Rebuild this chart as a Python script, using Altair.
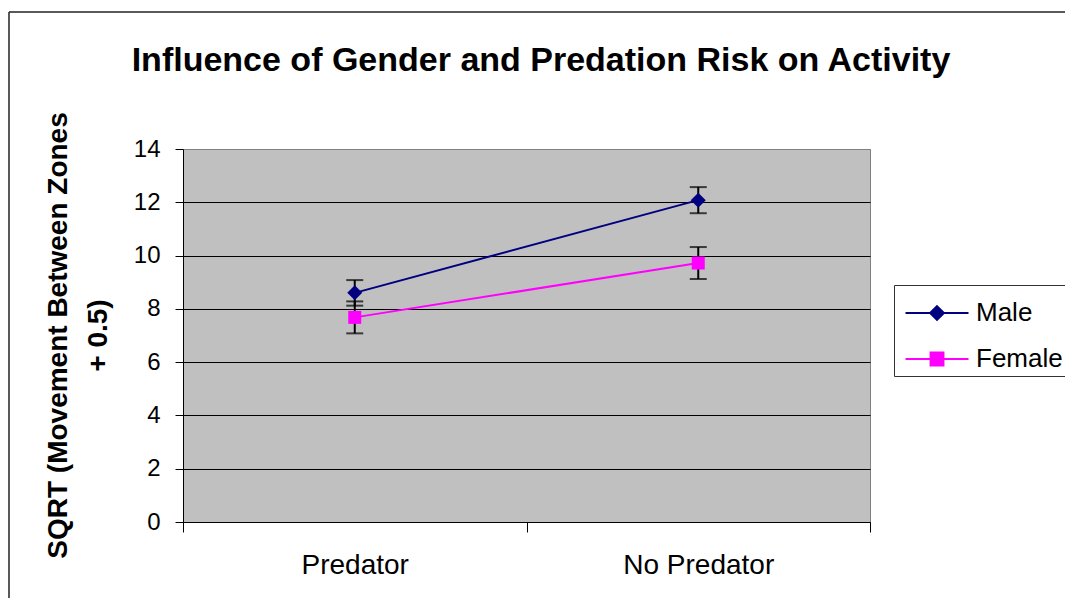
import altair as alt
import pandas as pd

# ---- data ----
conditions = ["Predator", "No Predator"]
genders = ["Male", "Female"]
male_means = [8.6, 12.08]
male_err = [0.48, 0.49]
female_means = [7.68, 9.72]
female_err = [0.6, 0.6]
y_ticks = [0, 2, 4, 6, 8, 10, 12, 14]
TITLE = "Influence of Gender and Predation Risk on Activity"
Y_TITLE = ["SQRT (Movement Between Zones", "+ 0.5)"]

rows = []
for g, means, errs in [("Male", male_means, male_err), ("Female", female_means, female_err)]:
    for c, m, e in zip(conditions, means, errs):
        rows.append({"condition": c, "gender": g, "mean": m, "lo": m - e, "hi": m + e})
df = pd.DataFrame(rows)

FONT = "Liberation Sans"
colors = ["#000080", "#FF00FF"]
marker_shapes = ["diamond", "square"]
marker_sizes = [225, 169]
W, H = 687, 373

x_enc = alt.X(
    "condition:N",
    sort=conditions,
    scale=alt.Scale(type="band", paddingInner=0, paddingOuter=0),
    axis=alt.Axis(
        title=None, tickBand="extent", tickSize=10, tickColor="black",
        domainColor="black", labelFont=FONT, labelFontSize=28, labelColor="black",
        labelPadding=19, labelAngle=0, grid=False,
    ),
)
y_scale = alt.Scale(domain=[0, 14], nice=False)
y_axis = alt.Axis(
    values=y_ticks, title=Y_TITLE, titleFont=FONT, titleFontSize=28, titleFontWeight="bold",
    titleColor="black", titleLineHeight=40, titleX=-125, titleY=186, titleAngle=270,
    titleAlign="center", titleBaseline="middle",
    labelFont=FONT, labelFontSize=24, labelColor="black", labelPadding=15,
    tickSize=8, tickColor="black", domainColor="black",
    grid=True, gridColor={"condition": {"test": "datum.value === 14", "value": "#808080"}, "value": "black"},
    gridWidth=1,
)
color_scale = alt.Scale(domain=genders, range=colors)

base = alt.Chart(df)

layers = []
for i, g in enumerate(genders):
    sub = base.transform_filter(alt.datum.gender == g)
    layers.append(
        sub.mark_line(strokeWidth=2, color=colors[i]).encode(
            x=x_enc, y=alt.Y("mean:Q", scale=y_scale, axis=y_axis)
        )
    )

err_rule = base.mark_rule(color="black", strokeWidth=2).encode(
    x=x_enc, y=alt.Y("lo:Q", scale=y_scale), y2="hi:Q"
)
err_lo = base.mark_tick(color="black", size=17, thickness=2).encode(
    x=x_enc, y=alt.Y("lo:Q", scale=y_scale)
)
err_hi = base.mark_tick(color="black", size=17, thickness=2).encode(
    x=x_enc, y=alt.Y("hi:Q", scale=y_scale)
)
layers += [err_rule, err_lo, err_hi]

for i, g in enumerate(genders):
    sub = base.transform_filter(alt.datum.gender == g)
    layers.append(
        sub.mark_point(shape=marker_shapes[i], filled=True, size=marker_sizes[i],
                       opacity=1, color=colors[i]).encode(
            x=x_enc, y=alt.Y("mean:Q", scale=y_scale)
        )
    )

legend = alt.Legend(
    title=None, orient="none", legendX=711, legendY=136, padding=4,
    symbolOffset=15, labelOffset=15, rowPadding=9, symbolSize=2116,
    symbolStrokeWidth=2, symbolOpacity=1,
    labelFont=FONT, labelFontSize=26, labelColor="black", labelLimit=300,
    fillColor="white", strokeColor="#333333",
)
leg_paths = [
    "M-1.37,0L1.37,0M0,-0.3L0.3,0L0,0.3L-0.3,0Z",
    "M-1.37,0L1.37,0M-0.28,-0.28L0.28,-0.28L0.28,0.28L-0.28,0.28Z",
]
# legend-only layer: no marks drawn (rows filtered out), the legend comes from the scale domains
legend_layer = base.transform_filter("false").mark_point(filled=True, strokeWidth=2).encode(
    x=x_enc, y=alt.Y("mean:Q", scale=y_scale),
    fill=alt.Fill("gender:N", scale=color_scale, legend=legend),
    stroke=alt.Stroke("gender:N", scale=color_scale, legend=legend),
    shape=alt.Shape("gender:N", scale=alt.Scale(domain=genders, range=leg_paths), legend=legend),
)
layers.append(legend_layer)

one = pd.DataFrame({"t": [TITLE]})
title = alt.Chart(one).mark_text(
    font=FONT, fontSize=34, fontWeight="bold", color="black", align="center", baseline="alphabetic"
).encode(text="t:N", x=alt.value(358), y=alt.value(-78))

border_left = alt.Chart(one).mark_rule(color="#222222", strokeWidth=1.5).encode(
    x=alt.value(-174), y=alt.value(-137), y2=alt.value(460)
)
border_top = alt.Chart(one).mark_rule(color="#222222", strokeWidth=1.5).encode(
    y=alt.value(-137), x=alt.value(-174), x2=alt.value(900)
)

chart = alt.layer(border_left, border_top, title, *layers).properties(
    width=W, height=H, autosize=alt.AutoSizeParams(type="none"),
    padding={"left": 175, "top": 141, "right": 195, "bottom": 76},
).configure(
    background="white",
    view=alt.ViewConfig(fill="#C0C0C0", stroke="#808080", strokeWidth=1),
)

chart.save("out.html", embed_options={"renderer": "svg", "actions": False})
